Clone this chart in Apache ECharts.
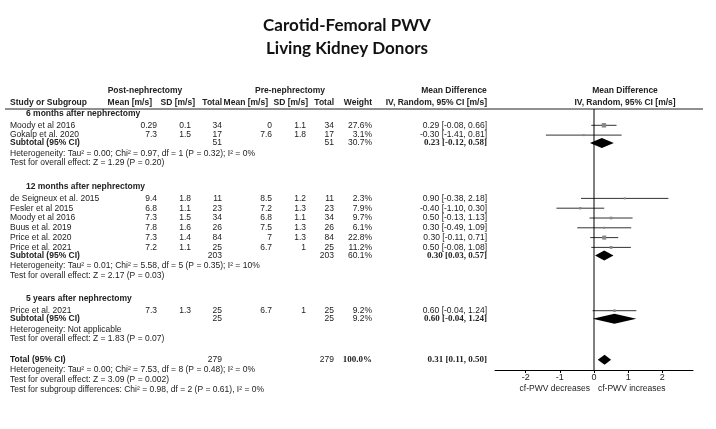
<!DOCTYPE html>
<html><head><meta charset="utf-8">
<script src="https://cdn.jsdelivr.net/npm/echarts@6/dist/echarts.min.js"></script>
<style>html,body{margin:0;padding:0;background:#fff}#c{width:716px;height:429px}</style>
</head><body><div id="c"></div>
<script>
// ---------------- data ----------------
const titleLines = ['Carotid-Femoral PWV', 'Living Kidney Donors'];
const groupNames = ['6 months after nephrectomy', '12 months after nephrectomy', '5 years after nephrectomy'];
const studyGroup = [0, 0, 1, 1, 1, 1, 1, 1, 2];
const studyNames = ['Moody et al 2016', 'Gokalp et al. 2020', 'de Seigneux et al. 2015', 'Fesler et al 2015', 'Moody et al 2016', 'Buus et al. 2019', 'Price et al. 2020', 'Price et al. 2021', 'Price et al. 2021'];
const postMean = [0.29, 7.3, 9.4, 6.8, 7.3, 7.8, 7.3, 7.2, 7.3];
const postSD = [0.1, 1.5, 1.8, 1.1, 1.5, 1.6, 1.4, 1.1, 1.3];
const postN = [34, 17, 11, 23, 34, 26, 84, 25, 25];
const preMean = [0, 7.6, 8.5, 7.2, 6.8, 7.5, 7, 6.7, 6.7];
const preSD = [1.1, 1.8, 1.2, 1.3, 1.1, 1.3, 1.3, 1, 1];
const preN = [34, 17, 11, 23, 34, 26, 84, 25, 25];
const weight = [27.6, 3.1, 2.3, 7.9, 9.7, 6.1, 22.8, 11.2, 9.2];
const md = [0.29, -0.30, 0.90, -0.40, 0.50, 0.30, 0.30, 0.50, 0.60];
const ciLow = [-0.08, -1.41, -0.38, -1.10, -0.13, -0.49, -0.11, -0.08, -0.04];
const ciHigh = [0.66, 0.81, 2.18, 0.30, 1.13, 1.09, 0.71, 1.08, 1.24];

const subPostN = [51, 203, 25];
const subPreN = [51, 203, 25];
const subWeight = [30.7, 60.1, 9.2];
const subMD = [0.23, 0.30, 0.60];
const subLow = [-0.12, 0.03, -0.04];
const subHigh = [0.58, 0.57, 1.24];
const hetTexts = ['Heterogeneity: Tau\u00b2 = 0.00; Chi\u00b2 = 0.97, df = 1 (P = 0.32); I\u00b2 = 0%',
  'Heterogeneity: Tau\u00b2 = 0.01; Chi\u00b2 = 5.58, df = 5 (P = 0.35); I\u00b2 = 10%',
  'Heterogeneity: Not applicable'];
const effectTexts = ['Test for overall effect: Z = 1.29 (P = 0.20)',
  'Test for overall effect: Z = 2.17 (P = 0.03)',
  'Test for overall effect: Z = 1.83 (P = 0.07)'];

const totalPostN = 279, totalPreN = 279, totalWeight = 100.0;
const totalMD = 0.31, totalLow = 0.11, totalHigh = 0.50;
const totalNotes = ['Heterogeneity: Tau\u00b2 = 0.00; Chi\u00b2 = 7.53, df = 8 (P = 0.48); I\u00b2 = 0%',
  'Test for overall effect: Z = 3.09 (P = 0.002)',
  'Test for subgroup differences: Chi\u00b2 = 0.98, df = 2 (P = 0.61), I\u00b2 = 0%'];
const axisTicks = [-2, -1, 0, 1, 2];
const favourLabels = ['cf-PWV decreases', 'cf-PWV increases'];
const headerTop = ['Post-nephrectomy', 'Pre-nephrectomy', 'Mean Difference', 'Mean Difference'];
const headerCols = ['Study or Subgroup', 'Mean [m/s]', 'SD [m/s]', 'Total', 'Mean [m/s]', 'SD [m/s]', 'Total', 'Weight', 'IV, Random, 95% CI [m/s]', 'IV, Random, 95% CI [m/s]'];

// ---------------- layout (styles / positions) ----------------
const SANS = '"Liberation Sans", Arial, sans-serif';
const SERIF = '"Liberation Serif", "Times New Roman", serif';
const F = '8.5px ' + SANS;
const FB = 'bold 8.5px ' + SANS;
const FSB = 'bold 9px ' + SERIF;
const COL = '#222';
const X = {name: 10, group: 26, postMean: 157, postSD: 191, postN: 222, preMean: 272, preSD: 306, preN: 334, weight: 372, md: 487};
const GRID_TOP = 109, GRID_BOTTOM = 370;

// build rows
const rows = [];
rows.push({kind: 'head1', y: 91});
rows.push({kind: 'head2', y: 102.5});
rows.push({kind: 'rule', y: GRID_TOP});
let y = 113.5;
groupNames.forEach((g, gi) => {
  rows.push({kind: 'group', y, gi});
  y += 11.8;
  const idx = studyGroup.map((v, i) => v === gi ? i : -1).filter(i => i >= 0);
  idx.forEach((i, k) => { if (k) y += 9.8; rows.push({kind: 'study', y, i}); });
  y += 8; rows.push({kind: 'sub', y, gi});
  y += 10.5; rows.push({kind: 'note', y, text: hetTexts[gi]});
  y += 9.5; rows.push({kind: 'note', y, text: effectTexts[gi]});
  y += (gi < groupNames.length - 1) ? 23.5 : 21;
});
rows.push({kind: 'total', y});
totalNotes.forEach(t => { y += 10; rows.push({kind: 'note', y, text: t}); });
rows.push({kind: 'favours', y: 389});
rows.push({kind: 'zero'});

function txt(x, y, s, align, font, fill) {
  return {type: 'text', silent: true, style: {x, y, text: s, align, textAlign: align, verticalAlign: 'middle', textVerticalAlign: 'middle', font: font || F, fill: fill || COL}};
}
const fmt2 = v => v.toFixed(2);
const ciText = (m, l, h) => fmt2(m) + ' [' + fmt2(l) + ', ' + fmt2(h) + ']';

function diamond(api, m, l, h, yy) {
  const pl = api.coord([l, yy]), pm = api.coord([m, yy]), ph = api.coord([h, yy]);
  return {type: 'polygon', silent: true, shape: {points: [[pl[0], yy], [pm[0], yy - 5], [ph[0], yy], [pm[0], yy + 5]]}, style: {fill: '#000'}};
}

function renderItem(params, api) {
  const r = rows[api.value(0)];
  const c = [];
  const yy = r.y !== undefined ? api.coord([0, r.y])[1] : 0;
  const zeroX = api.coord([0, GRID_TOP])[0];
  switch (r.kind) {
    case 'head1':
      c.push(txt(145, yy, headerTop[0], 'center', FB));
      c.push(txt(290, yy, headerTop[1], 'center', FB));
      c.push(txt(454, yy, headerTop[2], 'center', FB));
      c.push(txt(zeroX + 31, yy, headerTop[3], 'center', FB));
      break;
    case 'head2':
      c.push(txt(X.name, yy, headerCols[0], 'left', FB));
      c.push(txt(152, yy, headerCols[1], 'right', FB));
      c.push(txt(195, yy, headerCols[2], 'right', FB));
      c.push(txt(X.postN, yy, headerCols[3], 'right', FB));
      c.push(txt(268, yy, headerCols[4], 'right', FB));
      c.push(txt(308, yy, headerCols[5], 'right', FB));
      c.push(txt(X.preN, yy, headerCols[6], 'right', FB));
      c.push(txt(X.weight, yy, headerCols[7], 'right', FB));
      c.push(txt(X.md, yy, headerCols[8], 'right', FB));
      c.push(txt(zeroX + 31, yy, headerCols[9], 'center', FB));
      break;
    case 'rule':
      c.push({type: 'line', silent: true, shape: {x1: 5, y1: yy, x2: 703, y2: yy}, style: {stroke: '#222', lineWidth: 1}});
      break;
    case 'group':
      c.push(txt(X.group, yy, groupNames[r.gi], 'left', FB));
      break;
    case 'study': {
      const i = r.i;
      c.push(txt(X.name, yy, studyNames[i], 'left'));
      c.push(txt(X.postMean, yy, String(postMean[i]), 'right'));
      c.push(txt(X.postSD, yy, String(postSD[i]), 'right'));
      c.push(txt(X.postN, yy, String(postN[i]), 'right'));
      c.push(txt(X.preMean, yy, String(preMean[i]), 'right'));
      c.push(txt(X.preSD, yy, String(preSD[i]), 'right'));
      c.push(txt(X.preN, yy, String(preN[i]), 'right'));
      c.push(txt(X.weight, yy, weight[i].toFixed(1) + '%', 'right'));
      c.push(txt(X.md, yy, ciText(md[i], ciLow[i], ciHigh[i]), 'right'));
      const a = api.coord([ciLow[i], r.y]), b = api.coord([ciHigh[i], r.y]), m = api.coord([md[i], r.y]);
      c.push({type: 'line', silent: true, shape: {x1: a[0], y1: yy, x2: b[0], y2: yy}, style: {stroke: '#333', lineWidth: 1}});
      const s = Math.max(2, Math.sqrt(weight[i]) * 0.85);
      c.push({type: 'rect', silent: true, shape: {x: m[0] - s / 2, y: yy - s / 2, width: s, height: s}, style: {fill: '#888'}});
      break;
    }
    case 'sub': {
      const g = r.gi;
      c.push(txt(X.name, yy, 'Subtotal (95% CI)', 'left', FB));
      c.push(txt(X.postN, yy, String(subPostN[g]), 'right'));
      c.push(txt(X.preN, yy, String(subPreN[g]), 'right'));
      c.push(txt(X.weight, yy, subWeight[g].toFixed(1) + '%', 'right'));
      c.push(txt(X.md, yy, ciText(subMD[g], subLow[g], subHigh[g]), 'right', FSB));
      c.push(diamond(api, subMD[g], subLow[g], subHigh[g], yy));
      break;
    }
    case 'note':
      c.push(txt(X.name, yy, r.text, 'left'));
      break;
    case 'total':
      c.push(txt(X.name, yy, 'Total (95% CI)', 'left', FB));
      c.push(txt(X.postN, yy, String(totalPostN), 'right'));
      c.push(txt(X.preN, yy, String(totalPreN), 'right'));
      c.push(txt(X.weight, yy, totalWeight.toFixed(1) + '%', 'right', FSB));
      c.push(txt(X.md, yy, ciText(totalMD, totalLow, totalHigh), 'right', FSB));
      c.push(diamond(api, totalMD, totalLow, totalHigh, yy));
      break;
    case 'favours':
      c.push(txt(zeroX - 4, yy, favourLabels[0], 'right', F));
      c.push(txt(zeroX + 4, yy, favourLabels[1], 'left', F));
      break;
    case 'zero': {
      const t = api.coord([0, GRID_TOP]), btm = api.coord([0, GRID_BOTTOM]);
      c.push({type: 'line', silent: true, shape: {x1: t[0], y1: t[1], x2: btm[0], y2: btm[1]}, style: {stroke: '#000', lineWidth: 1}});
      break;
    }
  }
  return {type: 'group', children: c};
}

const chart = echarts.init(document.getElementById('c'), null, {renderer: 'canvas'});
chart.setOption({
  backgroundColor: '#fff',
  animation: false,
  title: {
    text: titleLines.join('\n'), left: 342, top: 9, textAlign: 'center',
    textStyle: {fontFamily: 'Lato, "Open Sans", sans-serif', fontWeight: 'bold', fontSize: 17, lineHeight: 23, color: '#111'}
  },
  grid: {left: 495, right: 23, top: GRID_TOP, bottom: 429 - GRID_BOTTOM},
  xAxis: {
    type: 'value', min: -2.9, max: 2.9,
    axisLine: {lineStyle: {color: '#000', width: 1}},
    axisTick: {customValues: axisTicks, length: 3, lineStyle: {color: '#000'}},
    axisLabel: {customValues: axisTicks, fontSize: 9, fontFamily: SANS, color: COL, margin: 3},
    splitLine: {show: false}
  },
  yAxis: {type: 'value', inverse: true, min: GRID_TOP, max: GRID_BOTTOM, show: false},
  series: [{
    type: 'custom', clip: false, silent: true,
    data: rows.map((r, i) => [i]),
    encode: {x: -1, y: -1},
    renderItem
  }]
});
</script></body></html>
